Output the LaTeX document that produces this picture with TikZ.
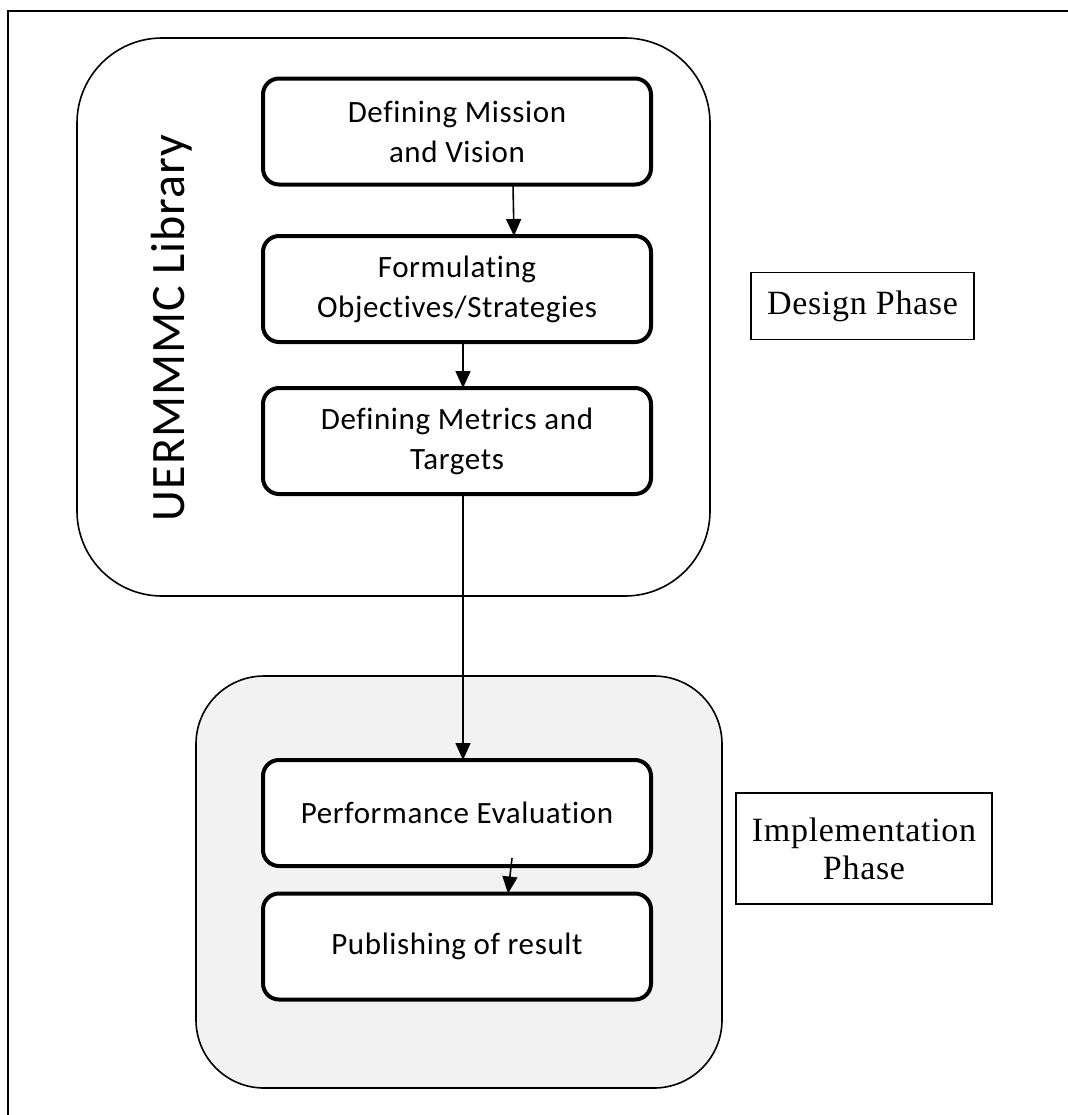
\documentclass[tikz,border=0pt]{standalone}
\usepackage{fontspec}
\setmainfont{Carlito}[Ligatures=NoCommon, LetterSpace=2]
\newfontfamily\serifphase{Liberation Serif}[LetterSpace=2]
\usetikzlibrary{arrows.meta}
\definecolor{panelgray}{HTML}{F2F2F2}
\tikzset{
  stepbox/.style={draw, line width=4bp, rounded corners=16bp, fill=white,
    minimum width=388bp, minimum height=106bp, inner sep=0pt, outer sep=0pt,
    align=center, font=\fontsize{31bp}{40bp}\selectfont},
  phasebox/.style={draw, line width=1.6bp, inner sep=0pt, outer sep=0pt,
    align=center, font=\serifphase\fontsize{34bp}{38bp}\selectfont},
  arr/.style={line width=1.6bp, -{Triangle[length=17bp,width=15bp]}},
}
\begin{document}
\begin{tikzpicture}[x=1bp,y=-1bp]
\useasboundingbox (0,0) rectangle (1068,1115);
% outer frame
\draw[line width=2.2bp] (1070,11) -- (8,11) -- (8,1117);
% panels
\draw[line width=1.6bp, rounded corners=85bp] (77,38) rectangle (710,596);
\draw[line width=1.6bp, rounded corners=68bp, fill=panelgray] (196,676) rectangle (722,1088);
% label
\node[rotate=90, font=\fontsize{48bp}{52bp}\selectfont, inner sep=0pt] (lib) at (172,328) {UERMMMC Library};
% steps
\node[stepbox] (m1) at (457,131.5) {Defining Mission\\and Vision};
\node[stepbox] (m2) at (457,289) {Formulating\\Objectives/Strategies};
\node[stepbox] (m3) at (457,441) {Defining Metrics and\\Targets};
\node[stepbox] (pe) at (457,813) {Performance Evaluation};
\node[stepbox] (pr) at (457,946.5) {Publishing of result};
% phases
\node[phasebox, minimum width=223bp, minimum height=67bp] (dp) at (862.5,306) {Design Phase};
\node[phasebox, minimum width=256bp, minimum height=111bp] (ip) at (864,848.5) {Implementation\\Phase};
% arrows
\draw[arr] ([xshift=56bp]m1.south) -- ([xshift=57bp]m2.north);
\draw[arr] ([xshift=6bp]m2.south) -- ([xshift=6bp]m3.north);
\draw[arr] ([xshift=6bp]m3.south) -- ([xshift=6bp]pe.north);
\draw[arr] ([xshift=55bp,yshift=8bp]pe.south) -- ([xshift=51bp]pr.north);
\end{tikzpicture}
\end{document}
